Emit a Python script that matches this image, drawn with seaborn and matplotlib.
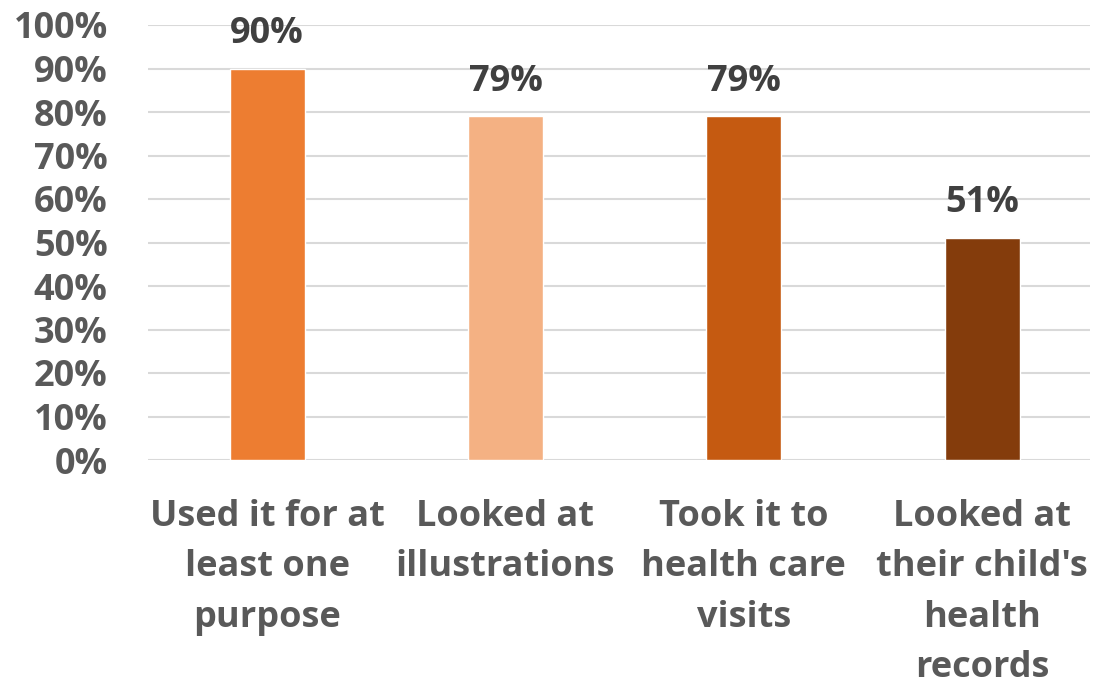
import pandas as pd
import matplotlib.pyplot as plt
import seaborn as sns

categories = ["Used it for at\nleast one\npurpose", "Looked at\nillustrations",
              "Took it to\nhealth care\nvisits", "Looked at\ntheir child's\nhealth\nrecords"]
values = [0.90, 0.79, 0.79, 0.51]
colors = ["#ED7D31", "#F4B183", "#C55A11", "#843C0C"]

df = pd.DataFrame({"cat": categories, "val": values})

sns.set_theme(style="white")
plt.rcParams['font.family'] = ['Open Sans', 'DejaVu Sans']
plt.rcParams['font.weight'] = 'bold'

fig = plt.figure(figsize=(10.96, 6.87), dpi=100)
ax = fig.add_axes([148 / 1096, 1 - 460 / 687, (1090 - 148) / 1096, (460 - 25) / 687])

sns.barplot(data=df, x="cat", y="val", hue="cat", palette=colors, legend=False,
            width=0.315, ax=ax, zorder=3, saturation=1)

ax.set_ylim(0, 1)
ax.set_xlim(-0.5, 3.453)
ax.set_yticks([i / 10 for i in range(11)])
ax.set_yticklabels([f"{i * 10}%" for i in range(11)])
ax.yaxis.grid(True, color="#D9D9D9", linewidth=1.5, zorder=0)
ax.set_axisbelow(True)
for s in ax.spines.values():
    s.set_visible(False)
ax.tick_params(axis="both", length=0, labelsize=26, labelcolor="#595959")
ax.tick_params(axis="y", pad=29)
ax.tick_params(axis="x", pad=28)
for lab in ax.get_yticklabels() + ax.get_xticklabels():
    lab.set_fontweight("bold")
for lab in ax.get_xticklabels():
    lab.set_linespacing(1.53)
ax.set_xlabel("")
ax.set_ylabel("")

for i, v in enumerate(values):
    ax.annotate(f"{int(round(v * 100))}%", (i, v), xytext=(0, 12), textcoords="offset points",
                ha="center", va="bottom", fontsize=26, fontweight="bold", color="#404040")

fig.savefig("out.png", dpi=100)
